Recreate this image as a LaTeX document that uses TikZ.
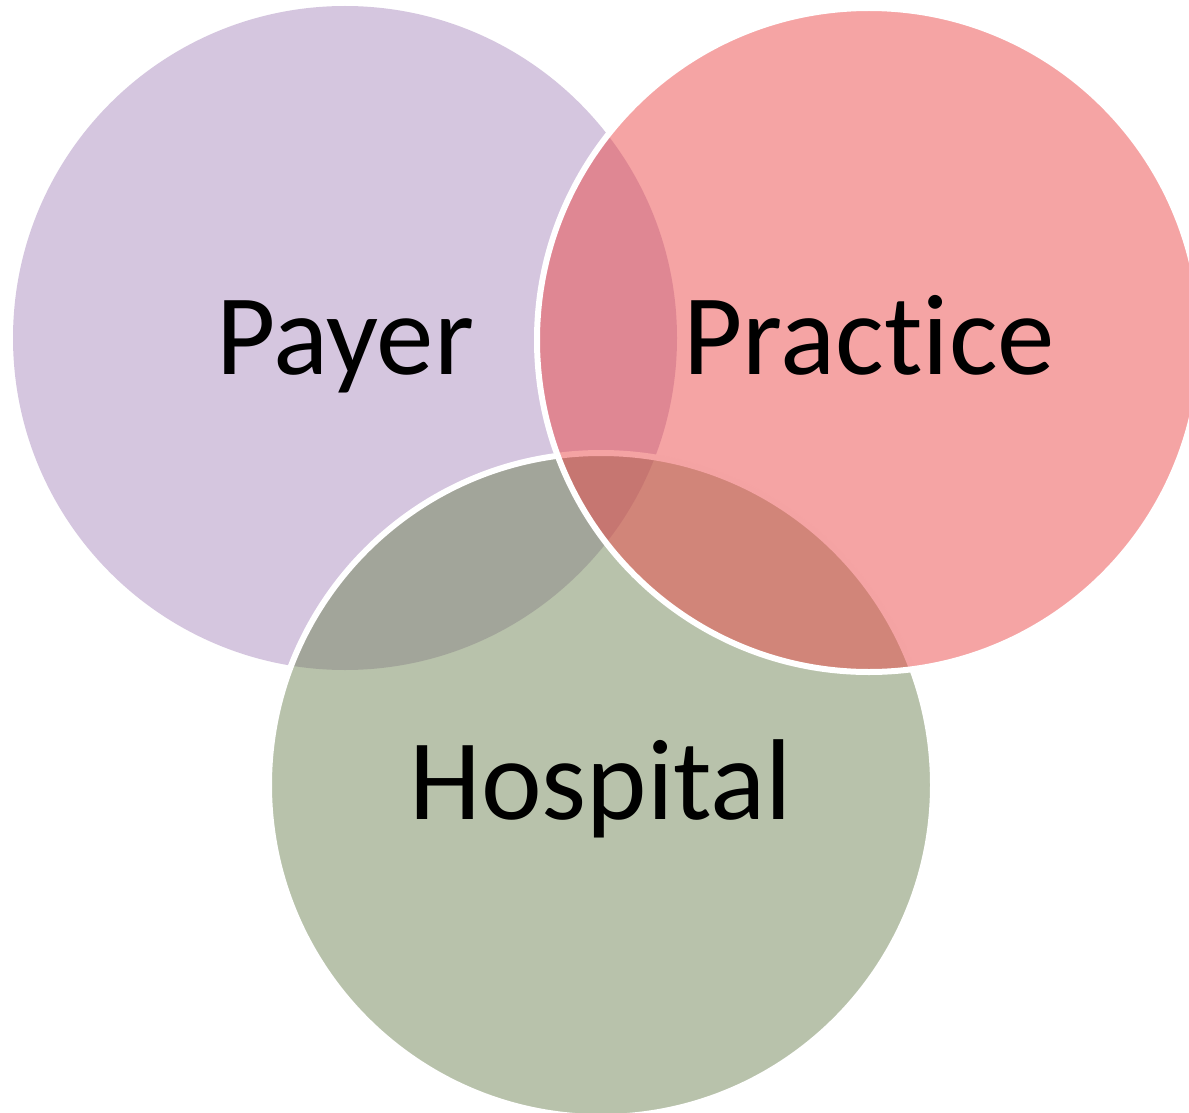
\documentclass[tikz,border=0pt]{standalone}
\usepackage{fontspec}
\setmainfont[Ligatures={NoCommon},RawFeature={-liga;-dlig}]{Carlito}
\definecolor{cpurple}{RGB}{171,141,191}
\definecolor{cgreen}{RGB}{113,133,87}
\definecolor{cpink}{RGB}{235,73,73}
\begin{document}
\begin{tikzpicture}[x=1pt,y=-1pt,
  venn/.style={circle, minimum size=664pt, inner sep=0pt, fill opacity=0.5, draw opacity=1},
  lbl/.style={anchor=base, font=\fontsize{115}{138}\selectfont, text=black, inner sep=0pt}]
\useasboundingbox (0,0) rectangle (1189,1113);
\node[venn, fill=cpurple] (payer) at (345,338) {};
\node[venn, fill=cgreen, draw=white, line width=6pt] (hospital) at (601,785) {};
\node[venn, fill=cpink, draw=white, line width=6pt] (practice) at (869,340) {};
\node[lbl] (payerlbl) at (345,374) {Payer};
\node[lbl] (practicelbl) at (869,374) {Practice};
\node[lbl] (hospitallbl) at (601,819) {Hospital};
\end{tikzpicture}
\end{document}
